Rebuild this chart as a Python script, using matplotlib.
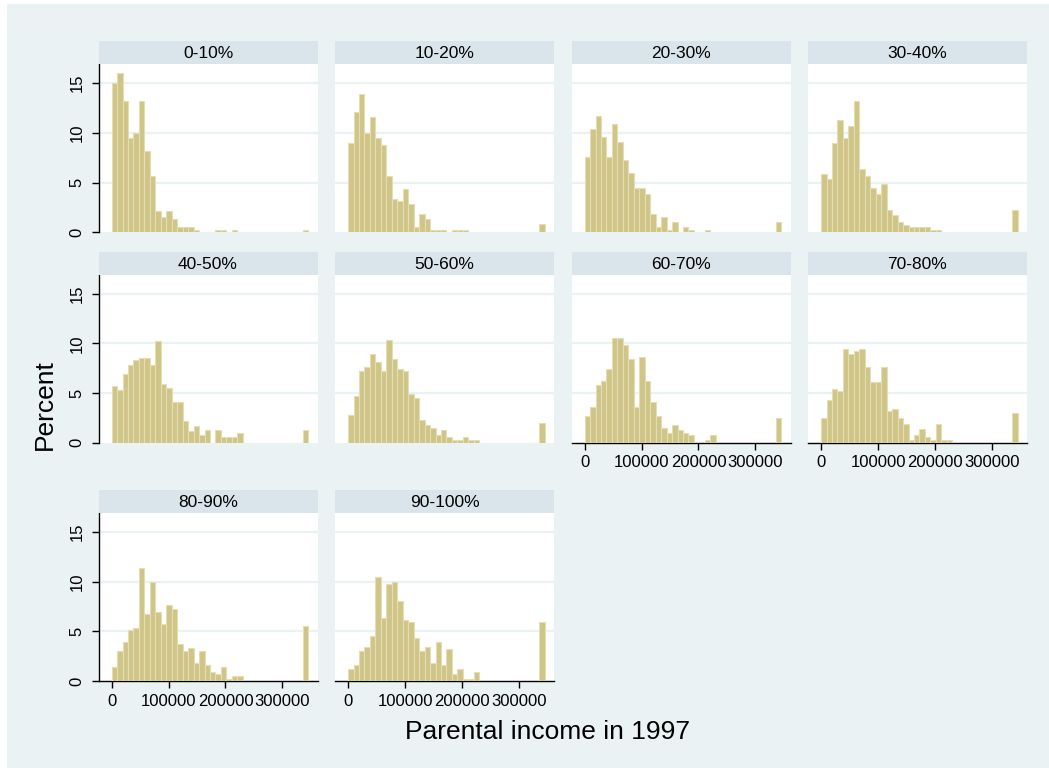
import numpy as np
import matplotlib
matplotlib.use("Agg")
import matplotlib.pyplot as plt
from matplotlib.patches import Rectangle

plt.rcParams["font.family"] = ["Liberation Sans", "DejaVu Sans"]

# Percent of children per income bin, by parental income decile group
groups = ["0-10%", "10-20%", "20-30%", "30-40%", "40-50%",
          "50-60%", "60-70%", "70-80%", "80-90%", "90-100%"]

pct_0_10 = [15.0, 16.06, 13.17, 9.46, 10.0, 13.17, 8.15, 5.62, 2.12, 1.58, 2.12, 1.35,
            0.54, 0.54, 0.54, 0.27, 0, 0, 0, 0.27, 0.27, 0, 0.27]
pct_10_20 = [8.99, 12.15, 13.94, 10.0, 11.6, 9.53, 8.75, 5.69, 3.37, 3.1, 4.38, 2.83,
             0.54, 1.82, 1.31, 0.27, 0.27, 0.27, 0, 0.27, 0.27, 0.27]
pct_20_30 = [7.58, 10.4, 11.7, 9.63, 7.58, 10.94, 9.09, 7.3, 5.99, 4.44, 4.44, 3.9,
             1.85, 0.54, 1.58, 0.27, 1.04, 0, 0.54, 0.27, 0, 0, 0.27]
pct_30_40 = [5.86, 5.35, 8.99, 11.25, 9.5, 10.74, 13.17, 6.33, 5.62, 4.44, 3.9, 4.88,
             2.22, 1.75, 1.01, 0.77, 0.51, 0.51, 0.51, 0.51, 0.27, 0.27]
pct_40_50 = [5.7, 5.27, 6.88, 7.85, 8.32, 8.56, 8.56, 7.82, 10.2, 5.94, 5.47, 4.06,
             4.06, 2.15, 1.21, 1.71, 0.77, 1.24, 0, 1.24, 0.54, 0.54, 0.54, 1.0]
pct_50_60 = [2.75, 4.7, 7.18, 7.65, 8.89, 8.15, 7.18, 10.34, 8.39, 7.42, 7.18, 4.93,
             4.46, 2.25, 1.74, 1.51, 0.77, 1.24, 0.54, 0.27, 0.27, 0.54, 0.27, 0.27]
pct_60_70 = [2.68, 3.62, 5.77, 6.24, 7.45, 10.5, 10.5, 9.8, 8.39, 3.62, 8.62, 6.24,
             4.09, 2.68, 1.51, 1.0, 1.74, 1.24, 1.0, 0.77, 0, 0, 0.27, 0.77]
pct_70_80 = [2.52, 4.3, 5.4, 5.17, 9.43, 8.93, 9.19, 9.43, 7.62, 6.07, 6.07, 7.62,
             3.19, 3.42, 2.52, 1.85, 0.27, 0.77, 1.41, 0.54, 0.27, 1.85, 0.27, 0.27]
pct_80_90 = [1.42, 3.04, 3.92, 5.14, 5.34, 11.35, 6.69, 10.0, 6.96, 5.78, 7.67, 7.2,
             3.72, 3.04, 3.28, 1.86, 3.04, 1.62, 0.95, 0.71, 1.42, 0.24, 0.51, 0.51]
pct_90_100 = [1.18, 1.62, 2.97, 3.45, 4.56, 10.47, 6.35, 9.8, 10.0, 8.0, 6.18, 5.95,
              4.32, 2.97, 3.45, 1.82, 3.89, 1.62, 3.24, 0.71, 1.18, 0.24, 0.24, 0.95]

# top-coded incomes land in the last bin
pct_top = [0.27, 0.84, 1.04, 2.22, 1.24, 2.01, 2.45, 2.95, 5.54, 5.95]

all_pct = [pct_0_10, pct_10_20, pct_20_30, pct_30_40, pct_40_50,
           pct_50_60, pct_60_70, pct_70_80, pct_80_90, pct_90_100]

n_bins = 36
bin_w = 9600
x_ticks = [0, 100000, 200000, 300000]
y_ticks = [0, 5, 10, 15]

W, H = 1049, 768
bg = "#EAF2F3"
strip_col = "#D9E5EA"
bar_col = "#CFC588"
edge_col = "#E4DEB2"

fig = plt.figure(figsize=(W / 100, H / 100), dpi=100, facecolor="white")
fig.patches.append(Rectangle((7 / W, 0), 1, 1 - 4 / H, transform=fig.transFigure,
                             facecolor=bg, edgecolor="none", zorder=-10))

col_left = [98.5, 335, 571.5, 808]
row_bottom = [232.3, 442.7, 681]
pw, ph, sh = 219, 168, 23

# panels that sit at the bottom of their column get the x axis
x_axis_panels = {6, 7, 8, 9}

for i, (name, vals) in enumerate(zip(groups, all_pct)):
    r, c = divmod(i, 4)
    left = col_left[c] / W
    bottom = 1 - row_bottom[r] / H
    ax = fig.add_axes([left, bottom, pw / W, ph / H])
    ax.set_facecolor("white")

    heights = np.zeros(n_bins)
    heights[:len(vals)] = vals
    heights[-1] = pct_top[i]
    edges = np.arange(n_bins) * bin_w
    ax.bar(edges, heights, width=bin_w, align="edge", color=bar_col,
           edgecolor=edge_col, linewidth=0.8, zorder=3)

    ax.set_xlim(-23000, 361600)
    ax.set_ylim(0, 16.9)
    for gy in y_ticks[1:]:
        ax.axhline(gy, color=bg, lw=1.6, zorder=1)

    for s in ax.spines.values():
        s.set_visible(False)

    if c == 0:
        ax.spines["left"].set_visible(True)
        ax.spines["left"].set_linewidth(1.0)
        ax.set_yticks(y_ticks)
        ax.set_yticklabels([str(t) for t in y_ticks], rotation=90, va="center")
        ax.tick_params(axis="y", length=5, width=1.0, labelsize=12, pad=5)
    else:
        ax.set_yticks([])

    if i in x_axis_panels:
        ax.spines["bottom"].set_visible(True)
        ax.spines["bottom"].set_linewidth(1.0)
        ax.set_xticks(x_ticks)
        ax.set_xticklabels([str(t) for t in x_ticks])
        ax.tick_params(axis="x", length=5, width=1.0, labelsize=12, pad=4)
    else:
        ax.set_xticks([])

    # strip header with the group name
    sax = fig.add_axes([left, bottom + ph / H, pw / W, sh / H])
    sax.set_facecolor(strip_col)
    sax.set_xticks([])
    sax.set_yticks([])
    for s in sax.spines.values():
        s.set_visible(False)
    sax.text(0.5, 0.45, name, ha="center", va="center", fontsize=12.5,
             transform=sax.transAxes)

fig.text(45 / W, 1 - 405 / H, "Percent", rotation=90, ha="center", va="center",
         fontsize=19)
fig.text(548 / W, 1 - 732 / H, "Parental income in 1997", ha="center",
         va="center", fontsize=19)

fig.savefig("out.png", dpi=100, facecolor="white")
